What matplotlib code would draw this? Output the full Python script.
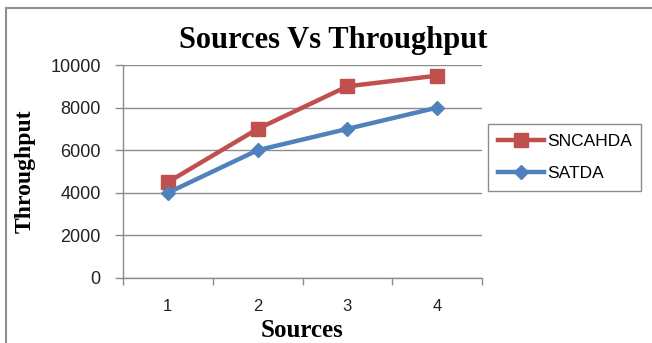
import matplotlib
matplotlib.use('Agg')
import matplotlib.pyplot as plt
from matplotlib.lines import Line2D

# data
sources = [1, 2, 3, 4]
sncahda = [4500, 7000, 9000, 9500]
satda = [4000, 6000, 7000, 8000]
y_ticks = [0, 2000, 4000, 6000, 8000, 10000]

red = '#C0504D'
blue = '#4F81BD'
grid_col = '#8C8C8C'

W, H = 652, 343
fig = plt.figure(figsize=(W / 100, H / 100), dpi=100)
fig.patch.set_facecolor('white')

# plot area in pixels: x 123..482, y 65..278
ax = fig.add_axes([123 / W, 1 - 278 / H, (482 - 123) / W, (278 - 65) / H])

ax.plot(sources, sncahda, color=red, lw=3.2, marker='s', markersize=9.5,
        label='SNCAHDA', zorder=3)
ax.plot(sources, satda, color=blue, lw=3.2, marker='D', markersize=7.5,
        label='SATDA', zorder=3)

ax.set_xlim(0.5, 4.5)
ax.set_ylim(0, 10000)
ax.set_yticks(y_ticks)
ax.set_yticklabels([str(v) for v in y_ticks])
ax.set_xticks(sources)
ax.set_xticklabels([str(s) for s in sources])
ax.set_xticks([0.5, 1.5, 2.5, 3.5, 4.5], minor=True)

ax.yaxis.grid(True, color=grid_col, lw=1.0)
ax.set_axisbelow(True)
for side in ['top', 'right']:
    ax.spines[side].set_visible(False)
for side in ['left', 'bottom']:
    ax.spines[side].set_color(grid_col)
    ax.spines[side].set_linewidth(1.0)

ax.tick_params(axis='y', direction='out', length=6, width=1, color=grid_col,
               pad=10, labelsize=13)
ax.tick_params(axis='x', which='major', length=0, pad=15, labelsize=12)
ax.tick_params(axis='x', which='minor', direction='out', length=5, width=1,
               color=grid_col)
for lab in ax.get_xticklabels() + ax.get_yticklabels():
    lab.set_family('Liberation Sans')
    lab.set_color('#222222')

# titles
fig.text(333 / W, 1 - 48 / H, 'Sources Vs Throughput', ha='center', va='baseline',
         family='Liberation Serif', fontweight='bold', fontsize=22)
fig.text(25 / W, 1 - 171 / H, 'Throughput', ha='center', va='center', rotation=90,
         family='Liberation Serif', fontweight='bold', fontsize=17)
fig.text(302 / W, 1 - 337 / H, 'Sources', ha='center', va='baseline',
         family='Liberation Serif', fontweight='bold', fontsize=18)

# legend
leg = fig.legend(loc='upper left', bbox_to_anchor=(488 / W, 1 - 124 / H),
                 frameon=True, fancybox=False, borderaxespad=0,
                 prop={'family': 'Liberation Sans', 'size': 12.5},
                 handlelength=2.7, handletextpad=0.15, labelspacing=1.0,
                 borderpad=0.55)
leg.get_frame().set_edgecolor('#707070')
leg.get_frame().set_linewidth(1.0)

# outer chart border (cut off at right and bottom)
fig.add_artist(Line2D([6 / W, 1.0], [1 - 8 / H, 1 - 8 / H], color='#909090', lw=1.5))
fig.add_artist(Line2D([6 / W, 6 / W], [0.0, 1 - 8 / H], color='#909090', lw=1.5))

fig.savefig('out.png', dpi=100)
